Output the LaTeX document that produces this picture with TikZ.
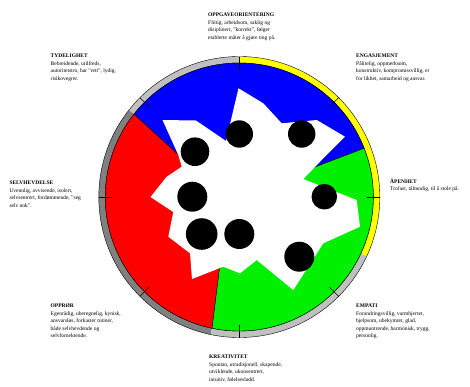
\documentclass[tikz,border=0pt]{standalone}
\usepackage{fontspec}
\setmainfont{Liberation Serif}
\usetikzlibrary{calc}
\definecolor{ringlight}{RGB}{192,192,192}
\definecolor{ringdark}{RGB}{128,128,128}
\definecolor{ringyellow}{RGB}{255,255,0}
\definecolor{secblue}{RGB}{0,0,255}
\definecolor{secred}{RGB}{255,0,0}
\definecolor{secgreen}{RGB}{0,240,0}
% annulus piece between two angles
\newcommand\ringseg[3]{%
  \fill[#1] ($(C)+(#2:140.5)$) arc[start angle=#2, end angle=#3, radius=140.5]
    -- ($(C)+(#3:134)$) arc[start angle=#3, end angle=#2, radius=134] -- cycle;}
% pie piece of the inner disc, closed at the inner point P
\newcommand\sectorpiece[3]{%
  \filldraw[sector, fill=#1] (P) -- ($(C)+(#2:134)$)
    arc[start angle=#2, end angle=#3, radius=134] -- cycle;}
\begin{document}
\begin{tikzpicture}[x=1pt,y=1pt,
  txt/.style={anchor=north west, inner sep=0pt, align=left,
    font=\fontsize{5.5}{7.5}\selectfont},
  sector/.style={draw=black, line width=0.4pt},
  dot/.style={fill=black},
  tick/.style={line width=0.6pt}]
\useasboundingbox (0,0) rectangle (470,-386);
\coordinate (C) at (239.3,-197);
\coordinate (P) at (228,-200);

% outer ring
\ringseg{ringyellow}{-25}{90}
\ringseg{ringlight}{90}{141.8}
\ringseg{ringdark}{141.8}{258.2}
\ringseg{ringlight}{258.2}{335}
\draw[line width=0.4pt] (C) circle (140.5);
\draw[line width=0.4pt] (C) circle (134);

% coloured sectors
\sectorpiece{secblue}{141.8}{21.3}
\sectorpiece{secgreen}{21.3}{-101.8}
\sectorpiece{secred}{258.2}{141.8}

% white profile
\fill[white] (238.5,-88.3) -- (263.3,-103.3) -- (281.7,-123.3) -- (316.7,-120)
  -- (345,-136.7) -- (321.7,-160) -- (303.3,-179) -- (356.7,-200)
  -- (360,-226.7) -- (323.3,-243.3) -- (293.3,-290) -- (256.7,-260)
  -- (240,-273.3) -- (223.3,-266.7) -- (192,-279) -- (190,-253.3)
  -- (168.3,-236.7) -- (173.3,-212) -- (150.5,-197) -- (166.7,-176.7)
  -- (181.7,-166.7) -- (178.3,-155) -- (162.5,-120) -- (196,-120.5)
  -- (226,-141) -- cycle;

% axis ticks
\foreach \a in {0,45,...,315}
  \draw[tick] ($(C)+(\a:127.5)$) -- ($(C)+(\a:140.5)$);

% score dots
\fill[dot] (239.3,-134) circle (13.7);
\fill[dot] (301.7,-134) circle (13.7);
\fill[dot] (195,-151.7) circle (14.3);
\fill[dot] (192.3,-196.7) circle (15);
\fill[dot] (324.3,-196.7) circle (12.8);
\fill[dot] (201.7,-234) circle (15.8);
\fill[dot] (239.3,-234) circle (15);
\fill[dot] (299.3,-256.7) circle (15);

% labels
\node[txt] (oppg) at (208,-13) {\textbf{OPPGAVEORIENTERING}\\Flittig, arbeidsom, saklig og\\disiplinert, "korrekt", følger\\etablerte måter å gjøre ting på.};
\node[txt] (tyd) at (50.5,-53.8) {\textbf{TYDELIGHET}\\Bebreidende, utilfreds,\\autoritetstro, har "rett", lydig,\\risikovegrer.};
\node[txt] (eng) at (356,-53.8) {\textbf{ENGASJEMENT}\\Pålitelig, oppmerksom,\\konstruktiv, kompromissvillig, er\\for likhet, samarbeid og ansvar.};
\node[txt] (selv) at (9.3,-180.8) {\textbf{SELVHEVDELSE}\\Uvennlig, avvisende, isolert,\\selvsentrert, fordømmende, "seg\\selv nok".};
\node[txt] (apen) at (390,-178.6) {\textbf{ÅPENHET}\\Trofast, tålmodig, til å stole på.};
\node[txt] (oppr) at (50.5,-303.8) {\textbf{OPPRØR}\\Egenrådig, uberegnelig, kynisk,\\ansvarsløs, forkaster rutiner,\\både selvhevdende og\\selvfornektende.};
\node[txt] (emp) at (356,-303.8) {\textbf{EMPATI}\\Forandringsvillig, varmhjertet,\\hjelpsom, ubekymret, glad,\\oppmuntrende, harmonisk, trygg,\\personlig.};
\node[txt] (krea) at (209,-354.8) {\textbf{KREATIVITET}\\Spontan, utradisjonell, skapende,\\utviklende, ukonsentrert,\\intuitiv, følelsesladd.};
\end{tikzpicture}
\end{document}
